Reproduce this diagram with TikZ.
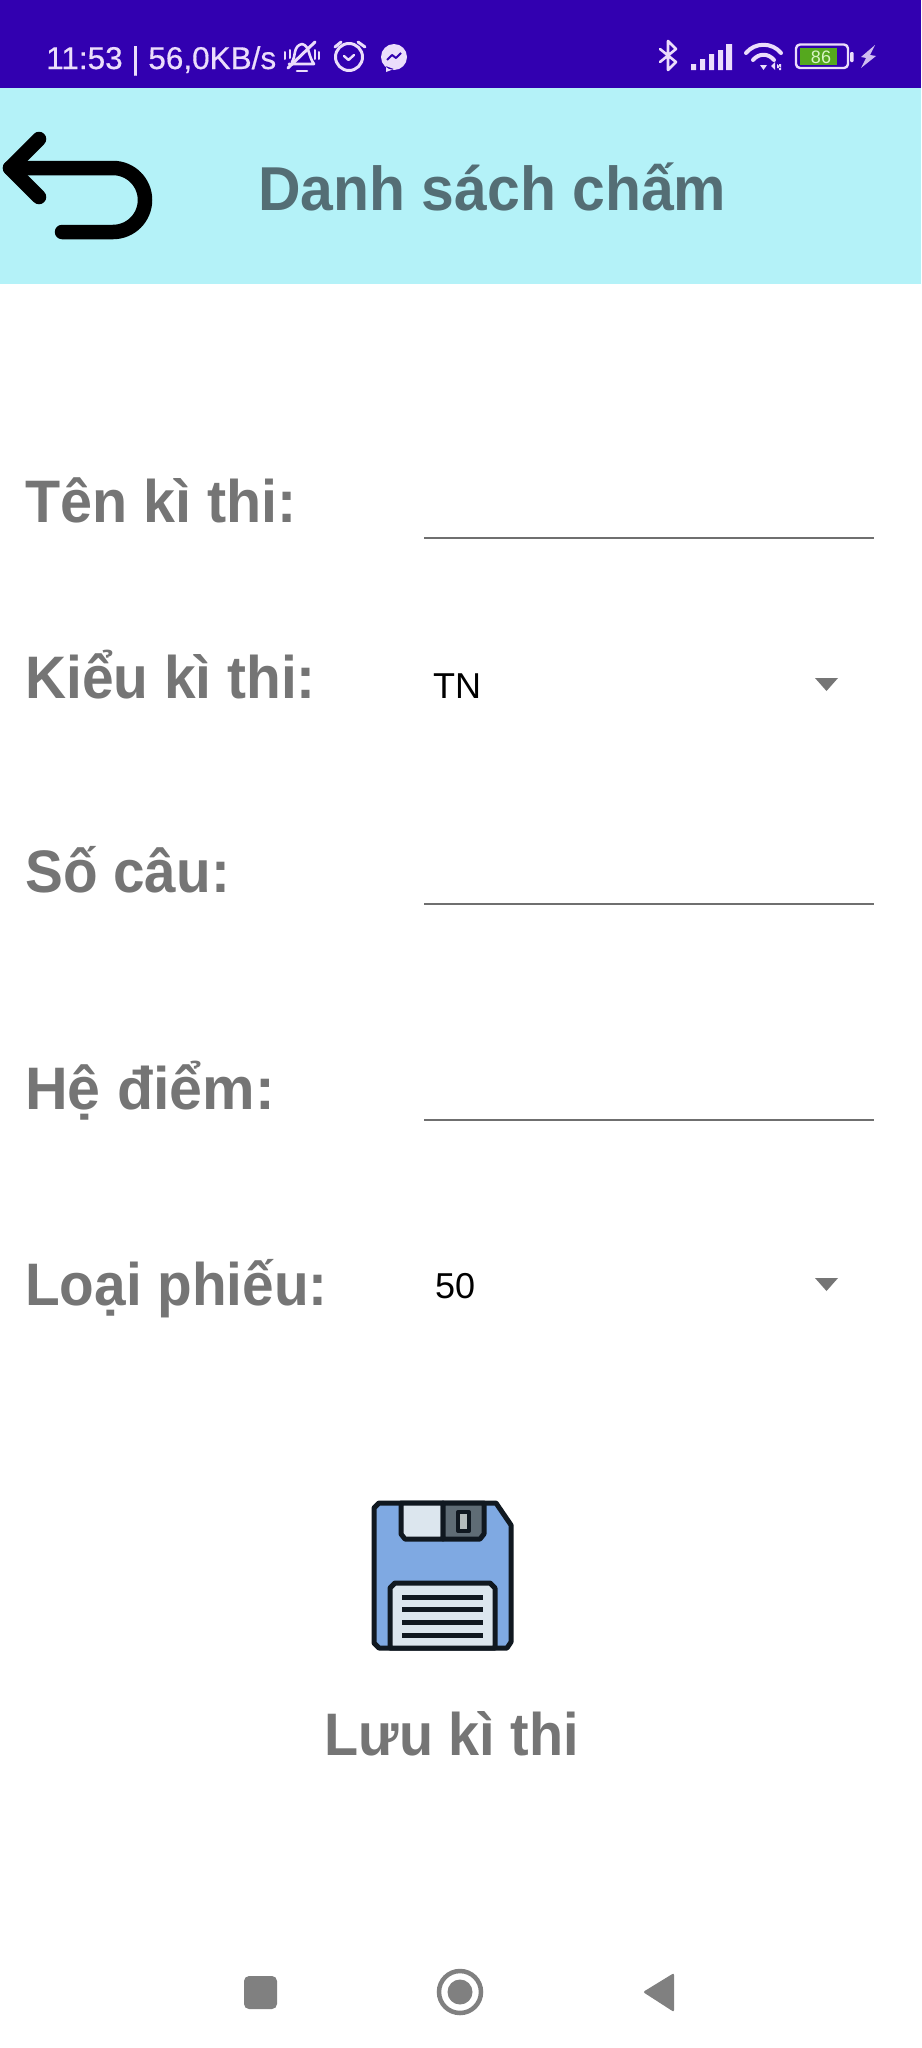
\documentclass[tikz,border=0pt]{standalone}
\usepackage{fontspec}
\usepackage{graphicx}
\setmainfont{Liberation Sans}
\newfontfamily\statusfont[FakeBold=0.5]{Liberation Sans}
\newcommand{\narrowed}[2]{\scalebox{#1}[1]{#2}}
\definecolor{barpurple}{HTML}{3200B0}
\definecolor{barcyan}{HTML}{B4F2F8}
\definecolor{titlegrey}{HTML}{546E75}
\definecolor{labelgrey}{HTML}{757575}
\definecolor{linegrey}{HTML}{6F6F6F}
\definecolor{statuslilac}{HTML}{EBDDFB}
\definecolor{navgrey}{HTML}{808080}
\definecolor{flopblue}{HTML}{7FA9E2}
\definecolor{floplight}{HTML}{DCE6EE}
\definecolor{flopdark}{HTML}{5F6C75}
\definecolor{flopwin}{HTML}{B4BCBC}
\definecolor{flopink}{HTML}{101820}
\definecolor{batgreen}{HTML}{55A81E}
\definecolor{batdigit}{HTML}{D8F5C4}
\tikzset{
  lbl/.style={anchor=base west,inner sep=0pt,text=labelgrey,font=\fontsize{60}{60}\selectfont\bfseries},
  spin/.style={anchor=base west,inner sep=0pt,text=black,font=\fontsize{36}{36}\selectfont},
  field/.style={draw=linegrey,line width=2.2pt},
  caret/.style={fill=labelgrey,draw=none},
  stat/.style={draw=statuslilac,line width=2.6pt,line cap=round,line join=round},
  flop/.style={draw=flopink,line width=5pt,line join=round}
}
\begin{document}
\begin{tikzpicture}[x=1pt,y=-1pt]
\useasboundingbox (0,0) rectangle (921,2048);
\fill[white] (0,0) rectangle (921,2048);
\fill[barpurple] (0,0) rectangle (921,88);
\fill[barcyan] (0,88) rectangle (921,284);
% status bar
\node[anchor=base west,inner sep=0pt,text=statuslilac,font=\fontsize{31.5}{32}\statusfont] (clock) at (46,69) {11:53 | 56,0KB/s};
% muted bell
\draw[stat] (292,62) .. controls (296,56) and (293,46) .. (302,44) .. controls (310,46) and (308,56) .. (314,64) -- (289,64);
\draw[stat] (297,71) -- (307,71);
\draw[stat,line width=3pt] (288,68) -- (315,42);
\draw[stat,line width=2pt] (285,52) -- (285,59) (290,50) -- (290,58) (315,50) -- (315,59) (319,52) -- (319,59);
% alarm
\draw[stat,line width=3pt] (349,57) circle (13.5);
\draw[stat,line width=2.4pt] (344,56) -- (348.5,60) -- (354,55);
\draw[stat,line width=3pt] (335,47) -- (341,42) (358,42) -- (365,47);
% messenger
\fill[statuslilac] (394,57) circle (13) (386,66) -- (386,72) -- (394,69) -- cycle;
\draw[barpurple,line width=2pt,line join=round] (387,60) -- (392,55) -- (396,58) -- (401,53);
% bluetooth
\draw[stat] (660,49) -- (676,62) -- (668,70) -- (668,41) -- (676,49) -- (660,62);
% signal
\fill[statuslilac] (691,64) rectangle (696,70) (700,59) rectangle (705,70) (709,54) rectangle (714,70) (718,50) rectangle (723,70) (726,44) rectangle (732,70);
% wifi
\draw[stat,line width=4pt] (746,53) .. controls (755,42) and (772,42) .. (781,53);
\draw[stat,line width=4pt] (753,60) .. controls (759,53) and (768,53) .. (774,60);
\fill[statuslilac] (760,65) -- (767,65) -- (763.5,70) -- cycle;
\fill[statuslilac] (771,66) -- (775,62) -- (775,70) -- cycle (777,64) -- (781,68) -- (777,68) -- cycle (779,64) rectangle (781,70);
% battery
\draw[stat,line width=2.4pt,rounded corners=4pt] (796,44.5) rectangle (848,68);
\fill[batgreen] (800,48) rectangle (837,64.5);
\node[anchor=base,inner sep=0pt,text=batdigit,font=\fontsize{18}{18}\selectfont] (batlevel) at (821,63) {86};
\fill[statuslilac,rounded corners=1pt] (850,52) rectangle (853.5,62);
\fill[statuslilac!85!barpurple] (861,57) -- (875,45) -- (870,55) -- (876,56) -- (861,68) -- (866,58) -- cycle;
% app bar
\draw[black,line width=14.5pt,line cap=round,line join=round] (39,139) -- (10,168) -- (39,197);
\draw[black,line width=14.5pt,line cap=round] (10,168) -- (113,168) arc[start angle=-90,end angle=90,radius=32] -- (62,232);
\node[anchor=base west,inner sep=0pt,text=titlegrey,font=\fontsize{62}{62}\selectfont\bfseries] (title) at (258,210) {\narrowed{0.95}{Danh sách chấm}};
% form
\node[lbl] (ten) at (25,522) {\narrowed{0.958}{Tên kì thi:}};
\node[lbl] (kieu) at (25,698) {\narrowed{0.948}{Kiểu kì thi:}};
\node[lbl] (socau) at (25,892) {\narrowed{0.945}{Số câu:}};
\node[lbl] (hediem) at (25,1109) {\narrowed{0.985}{Hệ điểm:}};
\node[lbl] (loai) at (25,1305) {\narrowed{0.946}{Loại phiếu:}};
\draw[field] (424,538) -- (874,538);
\draw[field] (424,904) -- (874,904);
\draw[field] (424,1120) -- (874,1120);
\node[spin] (tn) at (433,698) {TN};
\node[spin] (fifty) at (435,1298) {50};
\fill[caret] (815,678) -- (838,678) -- (826.5,691) -- cycle;
\fill[caret] (815,1278) -- (838,1278) -- (826.5,1291) -- cycle;
% floppy
\filldraw[flop,fill=flopblue] (379,1503) -- (496,1503) -- (511,1525) -- (511,1642) -- (507,1648) -- (379,1648) -- (374,1643) -- (374,1508) -- cycle;
\filldraw[flop,fill=floplight] (401,1503) -- (401,1534) -- (405,1539) -- (443,1539) -- (443,1503) -- cycle;
\filldraw[flop,fill=flopdark] (443,1503) -- (443,1539) -- (480,1539) -- (484,1534) -- (484,1503) -- cycle;
\filldraw[flop,fill=flopwin,line width=4pt] (458,1512) rectangle (469,1531);
\filldraw[flop,fill=floplight] (390,1648) -- (390,1588) -- (395,1583) -- (490,1583) -- (495,1588) -- (495,1648) -- cycle;
\draw[flop] (402,1597) -- (483,1597) (402,1609.5) -- (483,1609.5) (402,1622.5) -- (483,1622.5) (402,1635) -- (483,1635);
\node[anchor=base,inner sep=0pt,text=labelgrey,font=\fontsize{60}{60}\selectfont\bfseries] (save) at (452,1755) {\narrowed{0.93}{Lưu kì thi}};
% nav bar
\fill[navgrey,rounded corners=5pt] (244,1976) rectangle (277,2009);
\draw[navgrey,line width=4.5pt] (460,1992) circle (21);
\fill[navgrey] (460,1992) circle (12.5);
\fill[navgrey,rounded corners=2pt] (643,1992) -- (674,1973) -- (674,2012) -- cycle;
\end{tikzpicture}
\end{document}
